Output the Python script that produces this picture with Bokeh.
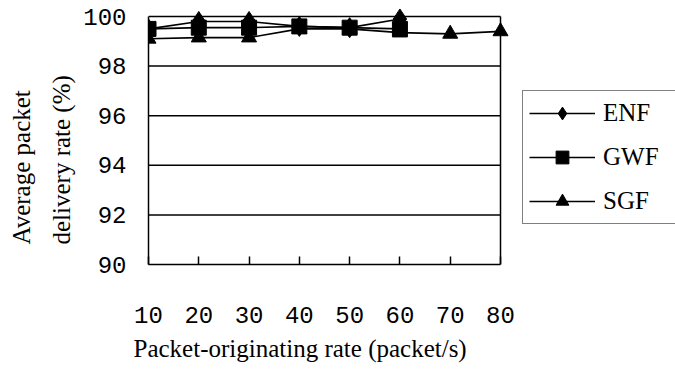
from bokeh.plotting import figure
from bokeh.models import Range1d, FixedTicker, Legend, LegendItem, Title, ColumnDataSource
from bokeh.embed import file_html
from bokeh.resources import INLINE

rates = [10, 20, 30, 40, 50, 60, 70, 80]
enf_x = [10, 20, 30, 40, 50, 60]
enf = [99.5, 99.8, 99.8, 99.6, 99.55, 99.9]
gwf_x = [10, 20, 30, 40, 50, 60]
gwf = [99.5, 99.55, 99.55, 99.6, 99.55, 99.5]
sgf_x = [10, 20, 30, 40, 50, 60, 70, 80]
sgf = [99.1, 99.15, 99.15, 99.5, 99.5, 99.35, 99.3, 99.4]
y_ticks = [90, 92, 94, 96, 98, 100]
grid_levels = [92, 94, 96, 98, 100]

MONO = "Liberation Mono"
SERIF = "Liberation Serif"

W, H = 675, 371
LEFT, TOP, BOTTOM = 148, 6, 107
PLOT_W, PLOT_H = 352, 248          # pixel size of the 10..80 x 90..100 plot area
px_x = PLOT_W / (rates[-1] - rates[0])
px_y = PLOT_H / (y_ticks[-1] - y_ticks[0])
x_end = rates[0] + (W - LEFT) / px_x
y_end = y_ticks[0] + (H - TOP - BOTTOM) / px_y

p = figure(width=W, height=H, output_backend="svg", toolbar_location=None,
           x_range=Range1d(rates[0], x_end), y_range=Range1d(y_ticks[0], y_end),
           min_border_left=LEFT, min_border_right=0, min_border_top=TOP, min_border_bottom=BOTTOM)
p.background_fill_color = "white"
p.border_fill_color = "white"
p.outline_line_color = None
p.xgrid.visible = False
p.ygrid.visible = False

# plot-area border and horizontal gridlines (limited to the 10..80 span)
p.segment(x0=[rates[0]] * len(grid_levels), x1=[rates[-1]] * len(grid_levels),
          y0=grid_levels, y1=grid_levels, line_color="black", line_width=1.5)
p.segment(x0=[rates[-1]], x1=[rates[-1]], y0=[y_ticks[0]], y1=[y_ticks[-1]],
          line_color="black", line_width=1.5)

p.xaxis.ticker = FixedTicker(ticks=rates)
p.yaxis.ticker = FixedTicker(ticks=y_ticks)
p.xaxis.bounds = (rates[0], rates[-1])
p.yaxis.bounds = (y_ticks[0], y_ticks[-1])
for ax in (p.xaxis[0], p.yaxis[0]):
    ax.axis_line_color = "black"
    ax.axis_line_width = 1.5
    ax.major_label_text_font = MONO
    ax.major_label_text_font_size = "24px"
    ax.major_label_text_color = "black"
    ax.minor_tick_line_color = None
    ax.major_tick_line_color = "black"
    ax.major_tick_line_width = 1.5
p.xaxis.major_tick_in = 8
p.xaxis.major_tick_out = 0
p.xaxis.major_label_standoff = 42
p.yaxis.major_tick_in = 0
p.yaxis.major_tick_out = 0
p.yaxis.major_label_standoff = 22

src_e = ColumnDataSource(dict(x=enf_x, y=enf))
src_g = ColumnDataSource(dict(x=gwf_x, y=gwf))
src_s = ColumnDataSource(dict(x=sgf_x, y=sgf))

le = p.line("x", "y", source=src_e, line_color="black", line_width=1.6)
me = p.scatter("x", "y", source=src_e, marker="diamond", size=20, fill_color="black", line_color="black")
lg = p.line("x", "y", source=src_g, line_color="black", line_width=1.6)
mg = p.scatter("x", "y", source=src_g, marker="square", size=15, fill_color="black", line_color="black")
ls = p.line("x", "y", source=src_s, line_color="black", line_width=1.6)
ms = p.scatter("x", "y", source=src_s, marker="triangle", size=15, fill_color="black", line_color="black")

legend = Legend(items=[LegendItem(label="ENF", renderers=[le, me]),
                       LegendItem(label="GWF", renderers=[lg, mg]),
                       LegendItem(label="SGF", renderers=[ls, ms])],
                location=(374, 40), orientation="vertical")
legend.label_text_font = SERIF
legend.label_text_font_size = "25px"
legend.label_text_color = "black"
legend.glyph_width = 66
legend.glyph_height = 32
legend.label_height = 32
legend.label_width = 100
legend.label_standoff = 8
legend.spacing = 12
legend.padding = 6
legend.margin = 0
legend.border_line_color = "black"
legend.border_line_width = 1.5
legend.background_fill_alpha = 1
p.add_layout(legend, "center")

xt = Title(text="Packet-originating rate (packet/s)", align="left", offset=-15, standoff=0,
           vertical_align="top", padding=dict(left=0, right=0, top=9, bottom=0),
           text_font=SERIF, text_font_size="25px", text_font_style="normal", text_color="black")
p.add_layout(xt, "below")

yt2 = Title(text="delivery rate (%)", align="left", offset=20, standoff=12,
            text_font=SERIF, text_font_size="25px", text_font_style="normal", text_color="black")
p.add_layout(yt2, "left")
yt1 = Title(text="Average packet", align="left", offset=20,
            text_font=SERIF, text_font_size="25px", text_font_style="normal", text_color="black")
p.add_layout(yt1, "left")

open("out.html", "w").write(file_html(p, INLINE))
